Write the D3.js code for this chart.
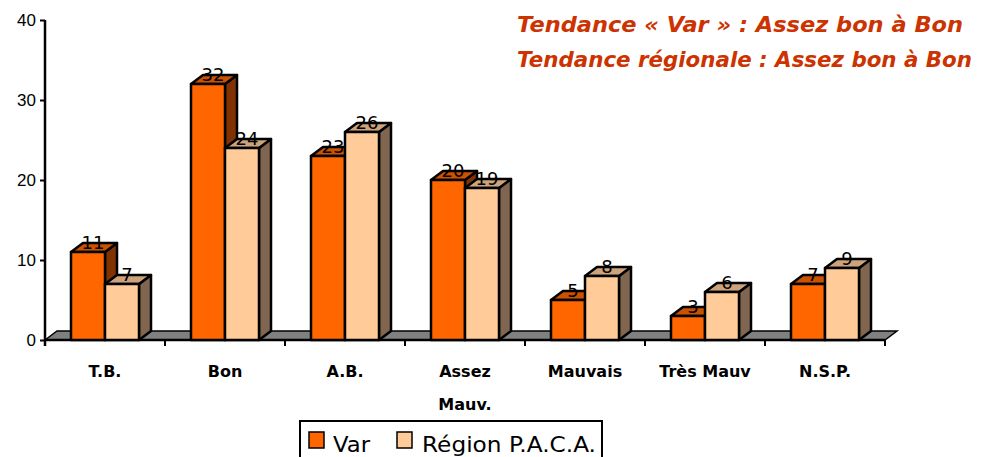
<!DOCTYPE html>
<html>
<head>
<meta charset="utf-8">
<script src="https://cdn.jsdelivr.net/npm/d3@7"></script>
<style>
  html, body { margin: 0; padding: 0; background: #fff; }
  svg { display: block; font-family: "DejaVu Sans", sans-serif; }
</style>
</head>
<body>
<svg id="chart" width="988" height="457"></svg>
<script>
var categories = ['T.B.', 'Bon', 'A.B.', 'Assez\nMauv.', 'Mauvais', 'Très Mauv', 'N.S.P.']
  , varValues = [11, 32, 23, 20, 5, 3, 7]
  , pacaValues = [7, 24, 26, 19, 8, 6, 9]
  , seriesNames = ['Var', 'Région P.A.C.A.']
  , yTicks = [0, 10, 20, 30, 40]
  , titleLines = ['Tendance « Var » : Assez bon à Bon', 'Tendance régionale : Assez bon à Bon']
;

var svg = d3.select('#chart')
  , depth = { dx: 12, dy: -9 }
  , palette = [
      { front: '#ff6600', top: '#cc5200', side: '#803300' },
      { front: '#ffcc99', top: '#cca37a', side: '#806650' }
    ]
  , series = [varValues, pacaValues]
  , x, xs, y, g, rows
;

x = d3.scaleBand().domain(categories).range([45, 885]).padding(0);
y = d3.scaleLinear().domain([0, 40]).range([340, 20]);
// two bars per category, 34px each, centred on the band
xs = d3.scaleBand().domain(d3.range(series.length)).range([0, 68]);

// floor
svg.append('path')
  .attr('d', 'M45,340 L' + (45 + depth.dx) + ',' + (340 + depth.dy) +
             ' L' + (885 + depth.dx) + ',' + (340 + depth.dy) + ' L885,340 Z')
  .attr('fill', '#808080').attr('stroke', '#000').attr('stroke-width', 1.5);

// y axis
g = svg.append('g').attr('transform', 'translate(45,0)')
  .call(d3.axisLeft(y).tickValues(yTicks).tickSize(5).tickSizeOuter(0));
g.select('.domain').attr('stroke-width', 2.5).attr('d', 'M0,20V346');
g.selectAll('.tick line').attr('stroke-width', 2);
g.selectAll('.tick text').attr('font-size', 17).attr('fill', '#000').attr('x', -9);

// x axis line and ticks
svg.append('line').attr('x1', 45).attr('x2', 885).attr('y1', 340).attr('y2', 340)
  .attr('stroke', '#000').attr('stroke-width', 2.5);
svg.selectAll('.xtick').data(categories.concat([null])).enter().append('line')
  .attr('x1', function (d) { return d === null ? x.range()[1] : x(d); })
  .attr('x2', function (d) { return d === null ? x.range()[1] : x(d); })
  .attr('y1', 340).attr('y2', 346)
  .attr('stroke', '#000').attr('stroke-width', 2);

// bars
rows = [];
categories.forEach(function (c, i) {
  series.forEach(function (s, k) {
    rows.push({ cat: c, k: k, v: s[i] });
  });
});

var bars = svg.selectAll('.bar').data(rows).enter().append('g').attr('class', 'bar');

bars.each(function (d) {
  var node = d3.select(this)
    , x0 = x(d.cat) + x.bandwidth() / 2 - 34 + xs(d.k)
    , x1 = x0 + xs.bandwidth()
    , yt = y(d.v)
    , yb = y(0)
    , dx = depth.dx, dy = depth.dy
    , col = palette[d.k];

  node.append('path')
    .attr('d', 'M' + x1 + ',' + yb + ' L' + (x1 + dx) + ',' + (yb + dy) +
               ' L' + (x1 + dx) + ',' + (yt + dy) + ' L' + x1 + ',' + yt + ' Z')
    .attr('fill', col.side);
  node.append('path')
    .attr('d', 'M' + x0 + ',' + yt + ' L' + (x0 + dx) + ',' + (yt + dy) +
               ' L' + (x1 + dx) + ',' + (yt + dy) + ' L' + x1 + ',' + yt + ' Z')
    .attr('fill', col.top);
  node.append('rect')
    .attr('x', x0).attr('y', yt).attr('width', x1 - x0).attr('height', yb - yt)
    .attr('fill', col.front);
  node.selectAll('path, rect')
    .attr('stroke', '#000').attr('stroke-width', 2.5).attr('stroke-linejoin', 'round');
});

// value labels
svg.selectAll('.val').data(rows).enter().append('text')
  .attr('x', function (d) { return x(d.cat) + x.bandwidth() / 2 - 34 + xs(d.k) + xs.bandwidth() / 2 + 5; })
  .attr('y', function (d) { return y(d.v) - 3; })
  .attr('text-anchor', 'middle')
  .attr('font-size', 18)
  .attr('fill', '#000')
  .text(function (d) { return d.v; });

// category labels
svg.selectAll('.cat').data(categories).enter().append('text')
  .attr('x', function (d) { return x(d) + x.bandwidth() / 2; })
  .attr('y', 377)
  .attr('text-anchor', 'middle')
  .attr('font-size', 16)
  .attr('font-weight', 'bold')
  .attr('fill', '#000')
  .each(function (d) {
    var t = d3.select(this);
    d.split('\n').forEach(function (line, i) {
      t.append('tspan').attr('x', t.attr('x')).attr('dy', i ? 33 : 0).text(line);
    });
  });

// titles
svg.selectAll('.title').data(titleLines).enter().append('text')
  .attr('x', 517)
  .attr('y', function (d, i) { return 32 + i * 35; })
  .attr('font-size', 22)
  .attr('font-weight', 'bold')
  .attr('font-style', 'italic')
  .attr('fill', '#cc3300')
  .attr('textLength', function (d, i) { return i ? 455 : 446; })
  .attr('lengthAdjust', 'spacingAndGlyphs')
  .text(function (d) { return d; });

// legend
var legend = svg.append('g');
legend.append('rect')
  .attr('x', 300).attr('y', 421).attr('width', 302).attr('height', 50)
  .attr('fill', '#fff').attr('stroke', '#000').attr('stroke-width', 2);
var legendItems = [{ sx: 309, tx: 333, w: 37 }, { sx: 397, tx: 422, w: 174 }];
seriesNames.forEach(function (name, k) {
  var it = legendItems[k];
  legend.append('rect')
    .attr('x', it.sx).attr('y', 432).attr('width', 15).attr('height', 16)
    .attr('fill', palette[k].front).attr('stroke', '#000').attr('stroke-width', 1.5);
  legend.append('text')
    .attr('x', it.tx).attr('y', 452)
    .attr('font-size', 22)
    .attr('fill', '#000')
    .attr('textLength', it.w)
    .attr('lengthAdjust', 'spacingAndGlyphs')
    .text(name);
});
</script>
</body>
</html>
